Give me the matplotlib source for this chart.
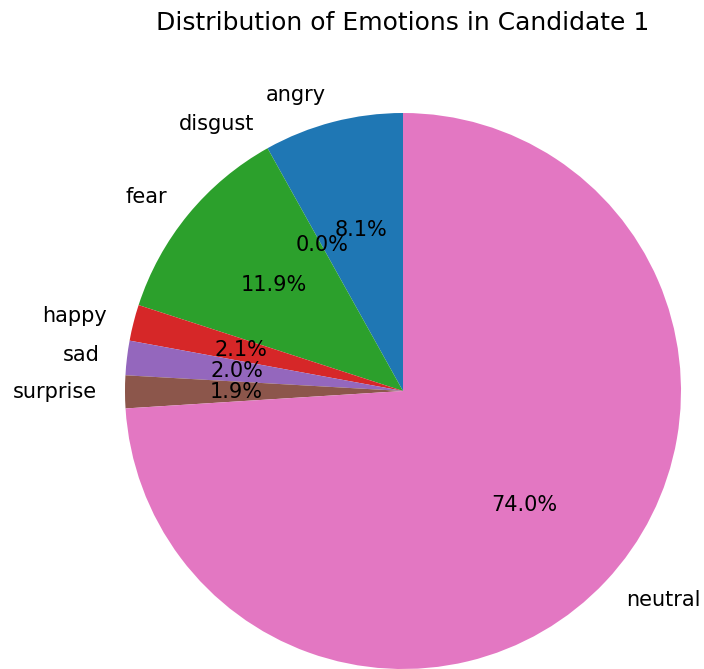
import matplotlib
matplotlib.use("Agg")
import matplotlib.pyplot as plt

# Emotion shares (percent) for candidate 1
emotions = ['angry', 'disgust', 'fear', 'happy', 'sad', 'surprise', 'neutral']
shares = [8.1, 0.0, 11.9, 2.1, 2.0, 1.9, 74.0]

fig = plt.figure(figsize=(7.04, 6.69), dpi=100)

# axes placed so the pie centre/radius match the reference (pixels)
W, H = 704, 669
cx, cy, r = 403, 391, 278
lim = 1.1
half = lim * r
ax = fig.add_axes([(cx - half) / W, (H - cy - half) / H, 2 * half / W, 2 * half / H])

ax.pie(shares, labels=emotions, autopct='%1.1f%%', startangle=90,
       textprops={'fontsize': 15})
ax.set_xlim(-lim, lim)
ax.set_ylim(-lim, lim)
ax.set_aspect('equal')

fig.text(cx / W, 1 - 23 / H, 'Distribution of Emotions in Candidate 1',
         ha='center', va='center', fontsize=18)

fig.savefig('out.png', dpi=100)
